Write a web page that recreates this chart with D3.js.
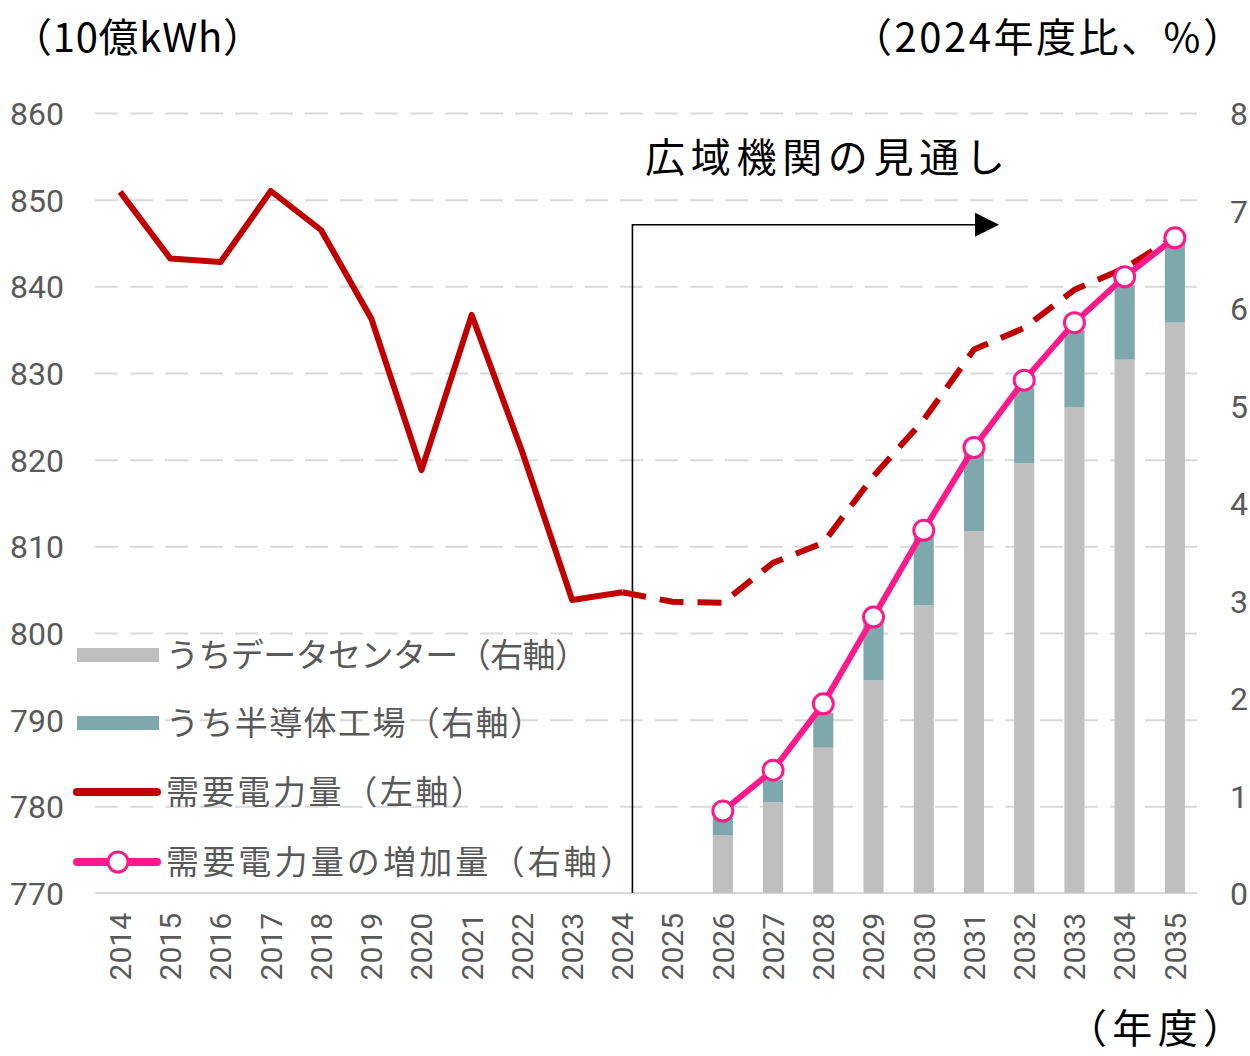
<!DOCTYPE html>
<html><head><meta charset="utf-8">
<script src="https://cdn.jsdelivr.net/npm/d3@7"></script>
<style>body{margin:0;background:#fff}svg{display:block}</style>
</head><body>
<svg id="c" width="1250" height="1056"></svg>
<script>
const years = ["2014","2015","2016","2017","2018","2019","2020","2021","2022","2023","2024","2025","2026","2027","2028","2029","2030","2031","2032","2033","2034","2035"];
const demand = [850.9,843.2,842.8,851.0,846.5,836.3,818.8,836.7,821.0,803.8,804.7,803.6,803.5,808.1,810.4,818.1,824.6,832.7,835.2,839.6,842.1,845.7];
const barYears = ["2026","2027","2028","2029","2030","2031","2032","2033","2034","2035"];
const dataCenter = [0.59,0.93,1.49,2.18,2.95,3.71,4.41,4.98,5.47,5.85];
const semiconductor = [0.18,0.23,0.36,0.60,0.72,0.81,0.77,0.79,0.77,0.82];
const increase = [0.84,1.26,1.94,2.83,3.72,4.57,5.26,5.85,6.32,6.72];
const leftTicks = [770,780,790,800,810,820,830,840,850,860];
const rightTicks = [0,1,2,3,4,5,6,7,8];
const legendLabels = ["うちデータセンター（右軸）","うち半導体工場（右軸）","需要電力量（左軸）","需要電力量の増加量（右軸）"];

const svg = d3.select("#c");
const x = d3.scaleBand().domain(years).range([95,1200]).paddingInner(0.6).paddingOuter(0.3);
const cx = d => x(d) + x.bandwidth()/2;
const yL = d3.scaleLinear().domain([770,860]).range([893,113]);
const yR = d3.scaleLinear().domain([0,8]).range([893,113]);
const numFont = "Roboto, 'Liberation Sans', Arial, sans-serif";
const jpFont = "'Noto Sans CJK JP', sans-serif";

// gridlines
const grid = svg.append("g").attr("transform","translate(95,0)")
  .call(d3.axisLeft(yL).tickValues(leftTicks.filter(v=>v>770)).tickSize(-(1197-95)).tickFormat(""));
grid.select(".domain").remove();
grid.selectAll("line").attr("stroke","#d9d9d9").attr("stroke-width",2).attr("stroke-dasharray","23,12");

// baseline
svg.append("line").attr("x1",95).attr("x2",1197).attr("y1",yL(770)).attr("y2",yL(770))
  .attr("stroke","#d9d9d9").attr("stroke-width",2);

// left axis labels
const la = svg.append("g").attr("transform","translate(64,0)")
  .call(d3.axisLeft(yL).tickValues(leftTicks).tickSize(0).tickPadding(0));
la.select(".domain").remove();
la.selectAll("text").attr("font-family",numFont).attr("font-size",32).attr("fill","#595959").attr("dy","0.36em");

// right axis labels
const ra = svg.append("g").attr("transform","translate(1230,0)")
  .call(d3.axisRight(yR).tickValues(rightTicks).tickSize(0).tickPadding(0).tickFormat(d3.format("d")));
ra.select(".domain").remove();
ra.selectAll("text").attr("font-family",numFont).attr("font-size",32).attr("fill","#595959").attr("dy","0.36em");

// x axis labels
const xa = svg.append("g").attr("transform","translate(0,913)")
  .call(d3.axisBottom(x).tickSize(0).tickPadding(0));
xa.select(".domain").remove();
xa.selectAll("text").attr("font-family",numFont).attr("font-size",30).attr("fill","#595959")
  .attr("text-anchor","end").attr("transform","rotate(-90)").attr("x",0).attr("y",0).attr("dx",0).attr("dy","0.36em");

// bars
const bw = x.bandwidth();
svg.append("g").selectAll("rect").data(barYears).join("rect")
  .attr("x",d=>x(d)).attr("width",bw)
  .attr("y",(d,i)=>yR(dataCenter[i])).attr("height",(d,i)=>yR(0)-yR(dataCenter[i]))
  .attr("fill","#bfbfbf");
svg.append("g").selectAll("rect").data(barYears).join("rect")
  .attr("x",d=>x(d)).attr("width",bw)
  .attr("y",(d,i)=>yR(dataCenter[i]+semiconductor[i])).attr("height",(d,i)=>yR(dataCenter[i])-yR(dataCenter[i]+semiconductor[i]))
  .attr("fill","#7ea8ac");

// arrow annotation
const vx = cx("2024") + x.step()*0.2;
const tipX = (cx("2031")+cx("2032"))/2;
const ay = yL(847.1);
svg.append("path").attr("d",`M${vx},${yL(770)}V${ay}H${tipX-22}`).attr("fill","none").attr("stroke","#000").attr("stroke-width",1.6);
svg.append("path").attr("d",`M${tipX-24},${ay-12}L${tipX},${ay}L${tipX-24},${ay+12}Z`).attr("fill","#000");
svg.append("text").attr("x",645).attr("y",158).attr("dy","0.36em")
  .attr("font-family",jpFont).attr("font-size",40).attr("fill","#000")
  .attr("textLength",360).attr("lengthAdjust","spacing").text("広域機関の見通し");

// demand line
const idx24 = years.indexOf("2024");
const line = d3.line().x(d=>cx(d[0])).y(d=>yL(d[1]));
const pts = years.map((y,i)=>[y,demand[i]]);
svg.append("path").datum(pts.slice(0,idx24+1)).attr("d",line).attr("fill","none")
  .attr("stroke","#c00000").attr("stroke-width",6).attr("stroke-linejoin","round");
svg.append("path").datum(pts.slice(idx24)).attr("d",line).attr("fill","none")
  .attr("stroke","#c00000").attr("stroke-width",6).attr("stroke-dasharray","24,14").attr("stroke-linejoin","round");

// increase line
const ipts = barYears.map((y,i)=>[y,increase[i]]);
const line2 = d3.line().x(d=>cx(d[0])).y(d=>yR(d[1]));
svg.append("path").datum(ipts).attr("d",line2).attr("fill","none")
  .attr("stroke","#ff1a8c").attr("stroke-width",6).attr("stroke-linejoin","round");
svg.append("g").selectAll("circle").data(ipts).join("circle")
  .attr("cx",d=>cx(d[0])).attr("cy",d=>yR(d[1])).attr("r",10)
  .attr("fill","#fff").attr("stroke","#ff1a8c").attr("stroke-width",3);

// legend
const lg = svg.append("g");
const ly = [655,723,792,862];
const lw = [422,377,318,467];
lg.append("rect").attr("x",77).attr("y",ly[0]-7).attr("width",82).attr("height",14).attr("fill","#bfbfbf");
lg.append("rect").attr("x",77).attr("y",ly[1]-7).attr("width",82).attr("height",14).attr("fill","#7ea8ac");
lg.append("line").attr("x1",77).attr("x2",157).attr("y1",ly[2]).attr("y2",ly[2]).attr("stroke","#c00000").attr("stroke-width",8).attr("stroke-linecap","round");
lg.append("line").attr("x1",77).attr("x2",157).attr("y1",ly[3]).attr("y2",ly[3]).attr("stroke","#ff1a8c").attr("stroke-width",8).attr("stroke-linecap","round");
lg.append("circle").attr("cx",118).attr("cy",ly[3]).attr("r",10).attr("fill","#fff").attr("stroke","#ff1a8c").attr("stroke-width",3);
lg.selectAll("text").data(legendLabels).join("text")
  .attr("x",166).attr("y",(d,i)=>ly[i]).attr("dy","0.36em")
  .attr("font-family",jpFont).attr("font-size",33).attr("fill","#595959")
  .attr("textLength",(d,i)=>lw[i]).attr("lengthAdjust","spacing").text(d=>d);

// unit labels
svg.append("text").attr("x",12).attr("y",38).attr("dy","0.36em").attr("font-family",jpFont).attr("font-size",40).attr("fill","#000")
  .attr("textLength",251).attr("lengthAdjust","spacing").text("（10億kWh）");
svg.append("text").attr("x",852).attr("y",38).attr("dy","0.36em").attr("font-family",jpFont).attr("font-size",40).attr("fill","#000")
  .attr("textLength",391).attr("lengthAdjust","spacing").text("（2024年度比、%）");
svg.append("text").attr("x",1067).attr("y",1029).attr("dy","0.36em").attr("font-family",jpFont).attr("font-size",40).attr("fill","#000")
  .attr("textLength",176).attr("lengthAdjust","spacing").text("（年度）");
</script>
</body></html>
